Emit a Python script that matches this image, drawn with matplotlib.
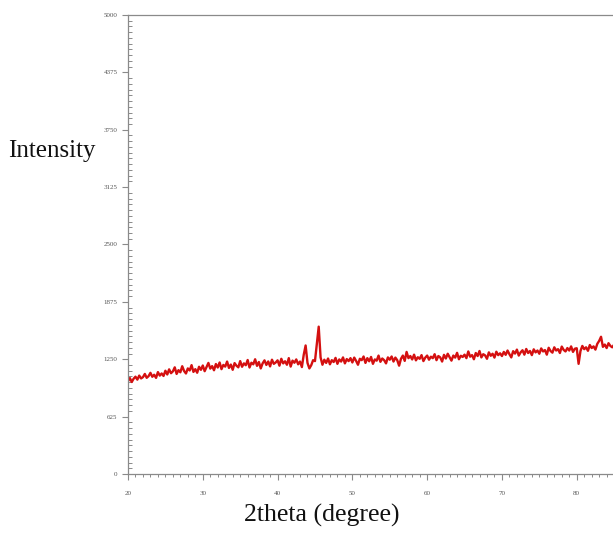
import numpy as np
import matplotlib.pyplot as plt
from matplotlib.ticker import MultipleLocator

# 2theta from 20 to 85.25, step 0.25 deg
two_theta = np.arange(0, 262) * 0.25 + 20.0

# intensity, one row per 5 degrees
seg_20 = [1010, 1045, 1002, 1038, 1060, 1028, 1072, 1041, 1055, 1090,
          1048, 1066, 1102, 1059, 1081, 1047, 1110, 1072, 1095, 1068]
seg_25 = [1125, 1084, 1140, 1098, 1118, 1162, 1090, 1131, 1108, 1174,
          1122, 1095, 1150, 1128, 1186, 1112, 1142, 1103, 1168, 1135]
seg_30 = [1182, 1120, 1165, 1210, 1148, 1175, 1130, 1198, 1160, 1215,
          1142, 1188, 1170, 1225, 1155, 1192, 1135, 1208, 1180, 1162]
seg_35 = [1230, 1168, 1205, 1185, 1242, 1160, 1212, 1195, 1250, 1178,
          1220, 1150, 1205, 1238, 1188, 1226, 1172, 1245, 1200, 1215]
seg_40 = [1238, 1180, 1255, 1205, 1228, 1190, 1262, 1170, 1235, 1212,
          1248, 1195, 1225, 1165, 1300, 1400, 1210, 1150, 1185, 1240]
seg_45 = [1230, 1420, 1605, 1270, 1190, 1245, 1210, 1258, 1195, 1240,
          1220, 1265, 1200, 1248, 1225, 1270, 1205, 1252, 1230, 1262]
seg_50 = [1215, 1268, 1232, 1190, 1255, 1240, 1280, 1210, 1262, 1228,
          1275, 1200, 1248, 1235, 1290, 1222, 1258, 1240, 1205, 1270]
seg_55 = [1245, 1280, 1225, 1268, 1240, 1180, 1255, 1290, 1232, 1330,
          1262, 1285, 1248, 1300, 1238, 1272, 1255, 1295, 1230, 1268]
seg_60 = [1290, 1245, 1278, 1262, 1305, 1240, 1285, 1270, 1225, 1298,
          1258, 1310, 1272, 1235, 1290, 1268, 1320, 1250, 1288, 1275]
seg_65 = [1300, 1262, 1335, 1278, 1295, 1250, 1318, 1285, 1340, 1270,
          1305, 1292, 1255, 1325, 1288, 1310, 1268, 1332, 1295, 1315]
seg_70 = [1285, 1330, 1298, 1345, 1305, 1270, 1338, 1312, 1355, 1290,
          1325, 1348, 1300, 1362, 1318, 1340, 1295, 1358, 1325, 1345]
seg_75 = [1310, 1368, 1335, 1350, 1300, 1375, 1340, 1322, 1380, 1345,
          1360, 1318, 1388, 1352, 1335, 1372, 1345, 1390, 1330, 1365]
seg_80 = [1370, 1200, 1340, 1395, 1360, 1380, 1342, 1405, 1372, 1390,
          1355, 1418, 1450, 1495, 1385, 1410, 1372, 1425, 1395, 1380]
seg_85 = [1410, 1390]

intensity = np.array(seg_20 + seg_25 + seg_30 + seg_35 + seg_40 + seg_45 + seg_50
                     + seg_55 + seg_60 + seg_65 + seg_70 + seg_75 + seg_80 + seg_85)

y_ticks = [0, 625, 1250, 1875, 2500, 3125, 3750, 4375, 5000]
x_ticks = [20, 30, 40, 50, 60, 70, 80]

fig = plt.figure(figsize=(6.13, 5.34), dpi=100)
ax = fig.add_axes([128 / 613, 60 / 534, 1 - 128 / 613, 459 / 534])

ax.plot(two_theta, intensity, color='#d41010', lw=1.7)

ax.set_xlim(20, 84.85)
ax.set_ylim(0, 5000)
ax.set_xticks(x_ticks)
ax.set_yticks(y_ticks)
ax.xaxis.set_minor_locator(MultipleLocator(1))
ax.yaxis.set_minor_locator(MultipleLocator(62.5))

for s in ['left', 'top', 'bottom']:
    ax.spines[s].set_color('#8a8a8a')
    ax.spines[s].set_linewidth(0.9)
ax.spines['right'].set_visible(False)

ax.tick_params(axis='both', which='major', direction='out', length=4, width=0.8,
               color='#8a8a8a', labelsize=5, labelcolor='#555555')
ax.tick_params(axis='y', which='minor', direction='in', length=3, width=0.7, color='#8a8a8a')
ax.tick_params(axis='x', which='minor', direction='out', length=2.5, width=0.7, color='#8a8a8a')
ax.tick_params(axis='x', which='major', pad=8)
for lab in ax.get_xticklabels() + ax.get_yticklabels():
    lab.set_family('Liberation Serif')

fig.text(8 / 613, 1 - 157 / 534, 'Intensity', family='Liberation Serif', fontsize=18,
         ha='left', va='baseline', color='#111111')
fig.text(322 / 613, 12 / 534, '2theta (degree)', family='Liberation Serif', fontsize=18.5,
         ha='center', va='baseline', color='#111111')

fig.savefig('out.png', dpi=100)
